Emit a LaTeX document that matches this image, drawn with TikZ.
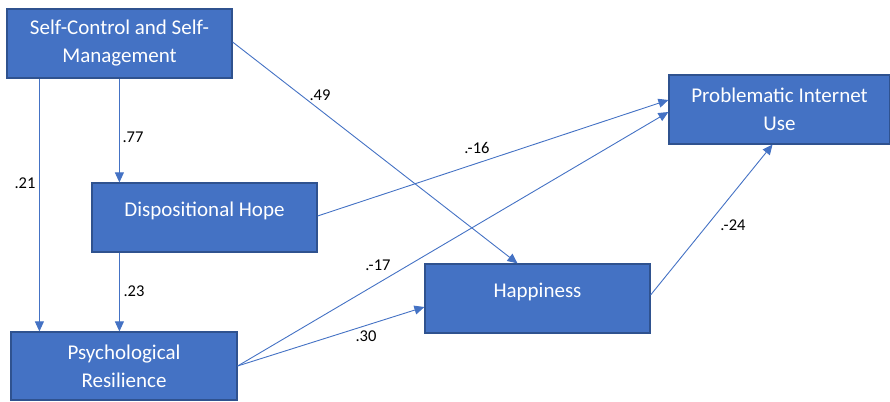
\documentclass[tikz,border=0pt]{standalone}
\usepackage{fontspec}
\setmainfont{Carlito}
\usetikzlibrary{arrows.meta}
\definecolor{boxfill}{HTML}{4472C4}
\definecolor{boxline}{HTML}{2F528F}
\definecolor{arrowc}{HTML}{4472C4}
\begin{document}
\begin{tikzpicture}[x=1pt,y=-1pt,
  var/.style={draw=boxline, fill=boxfill, line width=1.2pt, text=white,
    font=\fontsize{21}{28}\selectfont, align=center, inner sep=0pt,
    minimum width=225pt, minimum height=69pt},
  oneline/.style={text height=14pt, text depth=16pt},
  conn/.style={draw=arrowc, line width=0.9pt, -{Triangle[length=10pt,width=9pt]}},
  coef/.style={font=\fontsize{16.5}{18}\selectfont, text=black, inner sep=0pt}]
\useasboundingbox (0,0) rectangle (890,401);
\node[var] (sc) at (119.5,43.5) {Self-Control and Self-\\Management};
\node[var, oneline] (dh) at (204.5,217.5) {Dispositional Hope};
\node[var, minimum width=226pt, minimum height=68pt] (pr) at (124,366) {Psychological\\Resilience};
\node[var, oneline] (hap) at (537.5,298.5) {Happiness};
\node[var, minimum width=221pt] (piu) at (779.5,109.5) {Problematic Internet\\Use};

\draw[conn] ([xshift=33pt]sc.south west) -- ([xshift=29pt]pr.north west);
\draw[conn] ([xshift=113pt]sc.south west) -- ([xshift=28pt]dh.north west);
\draw[conn] ([xshift=28pt]dh.south west) -- ([xshift=109pt]pr.north west);
\draw[conn] ([yshift=1.5pt]sc.east) -- ([xshift=-20pt]hap.north);
\draw[conn] ([yshift=1.5pt]dh.east) -- ([yshift=9.5pt]piu.west);
\draw[conn] (pr.east) -- ([yshift=-2.5pt]piu.west);
\draw[conn] (pr.east) -- ([yshift=-8.5pt]hap.west);
\draw[conn] ([yshift=3.5pt]hap.east) -- ([xshift=-7pt]piu.south);

\node[coef] (c21) at (25,183) {.21};
\node[coef] (c77) at (133,137) {.77};
\node[coef] (c23) at (134,291) {.23};
\node[coef] (c49) at (320,95) {.49};
\node[coef] (c16) at (477,148) {.-16};
\node[coef] (c17) at (378,265) {.-17};
\node[coef] (c30) at (366,336) {.30};
\node[coef] (c24) at (733,225) {.-24};
\end{tikzpicture}
\end{document}
